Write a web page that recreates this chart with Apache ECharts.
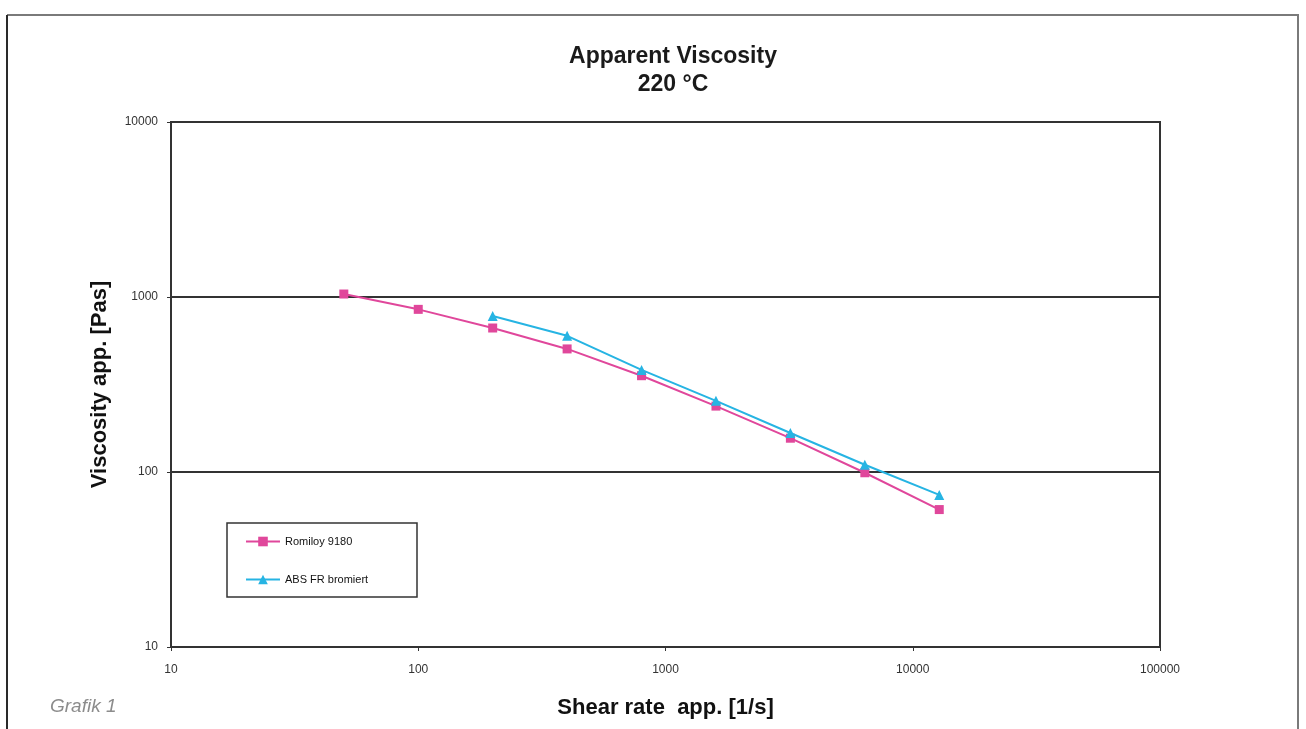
<!DOCTYPE html>
<html>
<head>
<meta charset="utf-8">
<script src="https://cdn.jsdelivr.net/npm/echarts@6/dist/echarts.min.js"></script>
<style>
  html, body { margin: 0; padding: 0; background: #fff; }
  #chart { width: 1306px; height: 729px; }
</style>
</head>
<body>
<div id="chart"></div>
<script>
// shear rate [1/s]
const romiloyShear = [50, 100, 200, 400, 800, 1600, 3200, 6400, 12800];
const romiloyVisc = [1040, 850, 665, 505, 355, 238, 156, 99, 61];
const absShear = [200, 400, 800, 1600, 3200, 6400, 12800];
const absVisc = [778, 600, 383, 255, 167, 110, 74];

const xTickLabels = ['10', '100', '1000', '10000', '100000'];
const yTickLabels = ['10', '100', '1000', '10000'];

const pink = '#e0479b';
const cyan = '#26b4e3';
const dark = '#333';
const font = 'Arial, "Liberation Sans", Helvetica, sans-serif';

const pairs = (xs, ys) => xs.map((x, i) => [x, ys[i]]);

const chart = echarts.init(document.getElementById('chart'));

chart.setOption({
  animation: false,
  backgroundColor: '#fff',
  textStyle: { fontFamily: font },
  title: {
    text: 'Apparent Viscosity\n220 °C',
    left: 668,
    textAlign: 'center',
    top: 38,
    textStyle: { fontSize: 23, fontWeight: 'bold', color: '#1a1a1a', lineHeight: 28, fontFamily: font }
  },
  graphic: [
    // outer frame: grey top and right, darker left edge
    {
      type: 'polyline',
      shape: { points: [[7, 15], [1298, 15], [1298, 729]] },
      style: { fill: 'none', stroke: '#7a7a7a', lineWidth: 2 },
      silent: true
    },
    {
      type: 'line',
      shape: { x1: 7, y1: 15, x2: 7, y2: 729 },
      style: { stroke: '#2a2a2a', lineWidth: 2 },
      silent: true
    },
    {
      type: 'rect',
      shape: { x: 227, y: 523, width: 190, height: 74 },
      style: { fill: '#fff', stroke: dark, lineWidth: 1.5 },
      z: 0,
      silent: true
    },
    {
      type: 'text',
      left: 50,
      top: 697,
      style: { text: 'Grafik 1', fontSize: 19, fontStyle: 'italic', fill: '#8c8c8c', fontFamily: font }
    }
  ],
  legend: {
    orient: 'vertical',
    left: 245,
    top: 536,
    itemWidth: 34,
    itemHeight: 12,
    itemGap: 27,
    padding: 0,
    z: 5,
    textStyle: { fontSize: 11, color: '#111', fontFamily: font },
    data: ['Romiloy 9180', 'ABS FR bromiert']
  },
  grid: {
    left: 171,
    right: 146,
    top: 122,
    bottom: 82,
    show: true,
    borderColor: dark,
    borderWidth: 2,
    backgroundColor: 'transparent'
  },
  xAxis: {
    type: 'log',
    logBase: 10,
    min: 10,
    max: 100000,
    name: 'Shear rate  app. [1/s]',
    nameLocation: 'middle',
    nameGap: 50,
    nameTextStyle: { fontSize: 22, fontWeight: 'bold', color: '#111', fontFamily: font },
    axisLine: { lineStyle: { color: dark, width: 2 } },
    axisTick: { show: true, length: 4, lineStyle: { color: dark } },
    minorTick: { show: false },
    splitLine: { show: false },
    axisLabel: {
      fontSize: 12,
      color: '#333',
      margin: 17,
      formatter: v => xTickLabels[Math.round(Math.log10(v)) - 1]
    }
  },
  yAxis: {
    type: 'log',
    logBase: 10,
    min: 10,
    max: 10000,
    name: 'Viscosity app. [Pas]',
    nameLocation: 'middle',
    nameRotate: 90,
    nameGap: 60,
    nameTextStyle: { fontSize: 22, fontWeight: 'bold', color: '#111', fontFamily: font },
    axisLine: { show: true, lineStyle: { color: dark, width: 2 } },
    axisTick: { show: true, length: 4, lineStyle: { color: dark } },
    minorTick: { show: false },
    splitLine: { show: true, lineStyle: { color: dark, width: 2 } },
    axisLabel: {
      fontSize: 12,
      color: '#333',
      margin: 13,
      formatter: v => yTickLabels[Math.round(Math.log10(v)) - 1]
    }
  },
  series: [
    {
      name: 'Romiloy 9180',
      type: 'line',
      data: pairs(romiloyShear, romiloyVisc),
      symbol: 'rect',
      symbolSize: 9,
      color: pink,
      lineStyle: { color: pink, width: 2 },
      itemStyle: { color: pink },
      z: 3
    },
    {
      name: 'ABS FR bromiert',
      type: 'line',
      data: pairs(absShear, absVisc),
      symbol: 'triangle',
      symbolSize: 10,
      color: cyan,
      lineStyle: { color: cyan, width: 2 },
      itemStyle: { color: cyan },
      z: 4
    }
  ]
});
</script>
</body>
</html>
